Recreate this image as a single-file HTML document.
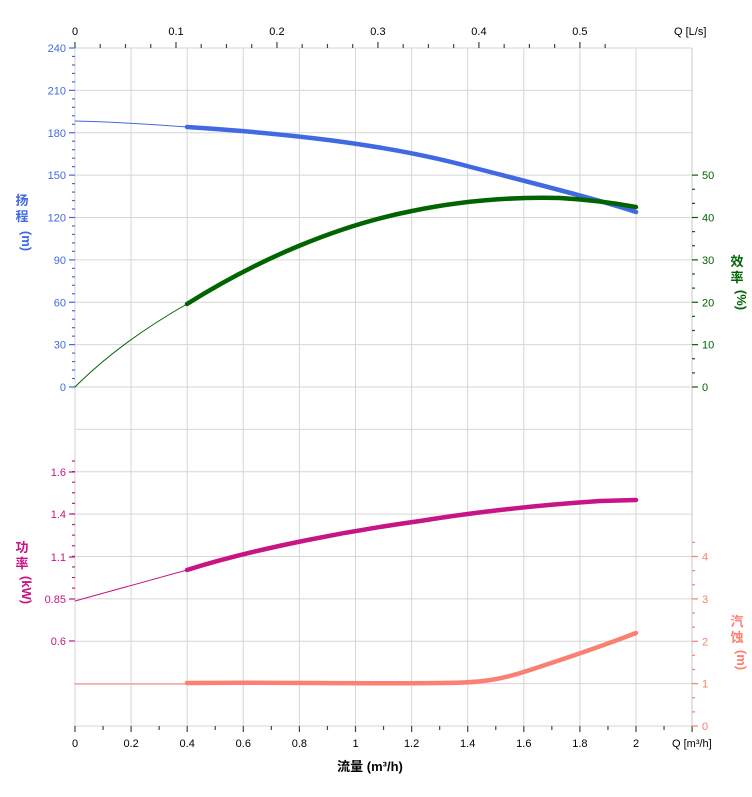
<!DOCTYPE html>
<html><head><meta charset="utf-8"><style>
body{margin:0;background:#fff}
svg{display:block;font-family:"Liberation Sans","Noto Sans CJK SC",sans-serif}
</style></head><body>
<svg id="s" width="752" height="797" viewBox="0 0 752 797" xmlns="http://www.w3.org/2000/svg">
<g id="grid" stroke="#d6d6d6" stroke-width="1"></g>
<g id="ticks"></g>
<g fill="none" stroke-linecap="round" stroke-linejoin="round">
<path d="M75,121 C120,122 160,125 187,127" stroke="#4169e1" stroke-width="1"/>
<path d="M187,127 C280,133 380,143 467,166 C540,185 600,200 636,212" stroke="#4169e1" stroke-width="4.5"/>
<path d="M75,387 C110,352 150,325 187,304" stroke="#006400" stroke-width="1"/>
<path d="M187,304 C260,258 340,225 412,211 C470,199 520,197 560,198 C595,200 620,204 636,207" stroke="#006400" stroke-width="4.5"/>
<path d="M75,601 L187,570" stroke="#c71585" stroke-width="1"/>
<path d="M187,570 C260,547 355,530 420,521 C500,508 570,503 600,501 L636,500" stroke="#c71585" stroke-width="4.5"/>
<path d="M75,684 L187,684" stroke="#fa8072" stroke-width="1"/>
<path d="M187,683 C280,682 350,684 440,683 C480,683 500,680 530,670 C570,657 600,647 636,633" stroke="#fa8072" stroke-width="4.5"/>
</g>
<g id="txt" font-size="11"></g>
<g font-weight="bold" font-size="13">
<text x="22" y="205" fill="#4169e1" text-anchor="middle">扬</text>
<text x="22" y="221" fill="#4169e1" text-anchor="middle">程</text>
<text x="22" y="241" fill="#4169e1" text-anchor="middle" transform="rotate(90 22 241)">(m)</text>
<text x="22" y="552" fill="#c71585" text-anchor="middle">功</text>
<text x="22" y="568" fill="#c71585" text-anchor="middle">率</text>
<text x="18" y="594" fill="#c71585" text-anchor="middle" transform="rotate(90 22 594)">(kW)</text>
<text x="737" y="266" fill="#006400" text-anchor="middle">效</text>
<text x="737" y="282" fill="#006400" text-anchor="middle">率</text>
<text x="733" y="304" fill="#006400" text-anchor="middle" transform="rotate(90 737 304)">(%)</text>
<text x="737" y="626" fill="#fa8072" text-anchor="middle">汽</text>
<text x="737" y="642" fill="#fa8072" text-anchor="middle">蚀</text>
<text x="733" y="664" fill="#fa8072" text-anchor="middle" transform="rotate(90 737 664)">(m)</text>
<text x="370" y="771" fill="#000" text-anchor="middle">流量 (m³/h)</text>
</g>
<text x="672" y="747" font-size="11">Q [m³/h]</text>
<text x="674" y="35" font-size="11">Q [L/s]</text>
</svg>
<script>
const NS="http://www.w3.org/2000/svg";
function el(p,t,a,tx){const e=document.createElementNS(NS,t);for(const k in a)e.setAttribute(k,a[k]);if(tx!==undefined)e.textContent=tx;document.getElementById(p).appendChild(e);return e;}
const L=75,R=692,T=48,B=726;
const xs=x=>75+x*280.5;
// vertical grid
for(let i=1;i<=11;i++){const x=xs(i*0.2);el("grid","line",{x1:x,x2:x,y1:T,y2:B});}
el("grid","line",{x1:L,x2:L,y1:T,y2:B});
// horizontal grid
const dy=42.375;
for(let i=0;i<=16;i++){const y=T+i*dy;el("grid","line",{x1:L,x2:R,y1:y,y2:y});}
// bottom axis ticks
for(let i=0;i<=22;i++){const x=xs(i*0.1);el("ticks","line",{x1:x,x2:x,y1:B,y2:B+(i%2?4:6),stroke:"#444","stroke-width":1.2});}
for(let i=0;i<=10;i++){const x=xs(i*0.2);el("txt","text",{x:x,y:747,"text-anchor":"middle",fill:"#000"},(Math.round(i*2)/10).toString());}
// top axis
for(let i=0;i<=21;i++){const q=i*0.025*3.6;const x=xs(q);if(x>R)break;el("ticks","line",{x1:x,x2:x,y1:T,y2:T-(i%4?4:6),stroke:"#444","stroke-width":1.2});}
for(let i=0;i<=5;i++){el("txt","text",{x:xs(i*0.36),y:35,"text-anchor":"middle",fill:"#000"},i===0?"0":(i/10).toString());}
// left head axis
for(let i=0;i<=40;i++){const y=T+i*dy/5; if(y>387.5)break; el("ticks","line",{x1:L,x2:L-(i%5?3:6),y1:y,y2:y,stroke:"#4169e1","stroke-width":1.2});}
for(let i=0;i<=8;i++){el("txt","text",{x:66,y:T+i*dy+4,"text-anchor":"end",fill:"#4169e1"},(240-30*i).toString());}
// left power axis
for(let i=0;i<=12;i++){const y=461+i*dy/4;if(y>645)break;el("ticks","line",{x1:L,x2:L-(i%2?3:3),y1:y,y2:y,stroke:"#c71585","stroke-width":1.2});}
[["1.6",472],["1.4",514],["1.1",557],["0.85",599],["0.6",641]].forEach(a=>{el("ticks","line",{x1:L,x2:L-6,y1:a[1],y2:a[1],stroke:"#c71585","stroke-width":1.2});el("txt","text",{x:66,y:a[1]+4,"text-anchor":"end",fill:"#c71585"},a[0]);});
// right axis line
el("grid","line",{x1:R,x2:R,y1:T,y2:B,stroke:"#ccc"});
// efficiency axis
for(let i=0;i<=15;i++){const y=387-i*dy/3;if(y<160)break;el("ticks","line",{x1:R,x2:R+(i%3?3:6),y1:y,y2:y,stroke:"#006400","stroke-width":1.2});}
for(let i=0;i<=5;i++){el("txt","text",{x:702,y:387-i*dy+4,fill:"#006400"},(i*10).toString());}
// npsh axis
for(let i=0;i<=17;i++){const y=726-i*dy/3;if(y<540)break;el("ticks","line",{x1:R,x2:R+(i%3?3:6),y1:y,y2:y,stroke:"#fa8072","stroke-width":1.2});}
for(let i=0;i<=4;i++){el("txt","text",{x:702,y:726-i*dy+4,fill:"#fa8072"},i.toString());}
</script>
</body></html>
